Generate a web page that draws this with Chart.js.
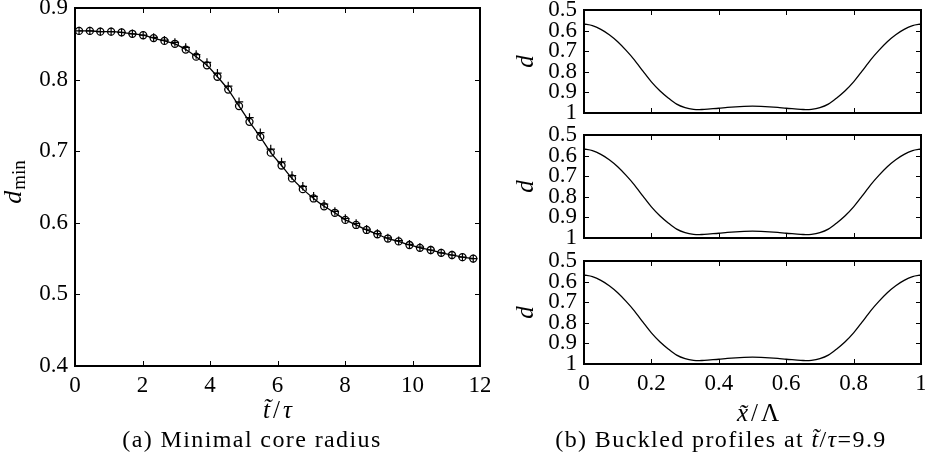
<!DOCTYPE html>
<html>
<head>
<meta charset="utf-8">
<script src="https://cdn.jsdelivr.net/npm/chart.js@4.4.0/dist/chart.umd.min.js"></script>
<style>
body { margin: 0; background: #fff; }
#wrap { position: relative; width: 925px; height: 462px; overflow: hidden; font-family: "Liberation Serif", serif; }
canvas { position: absolute; }
.cap { position: absolute; top: 426px; font-size: 24px; line-height: 26px; letter-spacing: 1.4px; white-space: nowrap; transform: translateX(-50%); color: #000; }
</style>
</head>
<body>
<div id="wrap">
  <canvas id="c1" width="490" height="430" style="left:0;top:0"></canvas>
  <canvas id="c2" width="425" height="128" style="left:500px;top:0"></canvas>
  <canvas id="c3" width="425" height="128" style="left:500px;top:120px"></canvas>
  <canvas id="c4" width="425" height="184" style="left:500px;top:246px"></canvas>
  <div class="cap" style="left:252px">(a) Minimal core radius</div>
  <div class="cap" style="left:721px">(b) Buckled profiles at <i>t&#771;</i>/<i>τ</i>=9.9</div>
</div>
<script>
// panel (a): minimal core radius vs time
const tVals = [0.12, 0.44, 0.75, 1.07, 1.38, 1.70, 2.02, 2.33, 2.65, 2.96, 3.28, 3.59, 3.91,
    4.22, 4.54, 4.86, 5.17, 5.49, 5.80, 6.12, 6.43, 6.75, 7.07, 7.38, 7.70, 8.01, 8.33,
    8.64, 8.96, 9.27, 9.59, 9.91, 10.22, 10.54, 10.85, 11.17, 11.48, 11.80];
const dminCircle = [0.868, 0.868, 0.867, 0.867, 0.866, 0.864, 0.862, 0.858, 0.854, 0.850, 0.842,
    0.832, 0.820, 0.804, 0.786, 0.763, 0.741, 0.720, 0.698, 0.680, 0.662, 0.647, 0.634, 0.623,
    0.614, 0.604, 0.597, 0.590, 0.584, 0.578, 0.574, 0.569, 0.565, 0.562, 0.558, 0.555, 0.552, 0.550];
const dminPlus = [0.868, 0.868, 0.867, 0.867, 0.866, 0.864, 0.862, 0.859, 0.855, 0.852, 0.845,
    0.835, 0.824, 0.809, 0.791, 0.769, 0.747, 0.726, 0.703, 0.685, 0.666, 0.651, 0.637, 0.626,
    0.616, 0.606, 0.599, 0.591, 0.585, 0.579, 0.575, 0.570, 0.566, 0.562, 0.558, 0.555, 0.552, 0.550];

// panel (b): buckled profiles
const xVals = [0, 0.025, 0.05, 0.075, 0.1, 0.125, 0.15, 0.175, 0.2, 0.225, 0.25, 0.275, 0.3,
    0.325, 0.35, 0.375, 0.4, 0.425, 0.45, 0.475, 0.5, 0.525, 0.55, 0.575, 0.6, 0.625, 0.65,
    0.675, 0.7, 0.725, 0.75, 0.775, 0.8, 0.825, 0.85, 0.875, 0.9, 0.925, 0.95, 0.975, 1];
const profileD = [0.568, 0.576, 0.594, 0.620, 0.654, 0.696, 0.743, 0.797, 0.849, 0.892, 0.927,
    0.957, 0.974, 0.982, 0.983, 0.980, 0.977, 0.973, 0.970, 0.968, 0.967, 0.968, 0.970, 0.973,
    0.977, 0.980, 0.983, 0.982, 0.974, 0.957, 0.927, 0.892, 0.849, 0.797, 0.743, 0.696, 0.654,
    0.620, 0.594, 0.576, 0.568];

const tTicks = [0, 2, 4, 6, 8, 10, 12];
const dminTicks = [0.4, 0.5, 0.6, 0.7, 0.8, 0.9];
const xTicks = [0, 0.2, 0.4, 0.6, 0.8, 1];
const dTicks = [0.5, 0.6, 0.7, 0.8, 0.9, 1];

const FONT = '"Liberation Serif", serif';
Chart.defaults.font.family = FONT;
Chart.defaults.font.size = 23;
Chart.defaults.color = '#000';

const fmt = v => String(+Number(v).toFixed(1));
const ital = s => 'italic ' + s + 'px ' + FONT;
const roman = s => s + 'px ' + FONT;

// axis titles per canvas, kept out of the chart options
const dTitle = { rotate: true, x: 33, shift: 0, gap: 0, parts: [{ text: 'd', font: ital(25), dy: 0 }] };
const titleItems = {
    c1: [{
        rotate: true, x: 21, shift: -5, gap: 1,
        parts: [{ text: 'd', font: ital(26), dy: 0 }, { text: 'min', font: roman(19), dy: 4 }]
    }, {
        rotate: false, y: 418, gap: 3,
        parts: [{ text: 't\u0303', font: ital(25), dy: 0 }, { text: '/', font: roman(25), dy: 0 },
            { text: '\u03c4', font: ital(25), dy: 0 }]
    }],
    c2: [dTitle],
    c3: [dTitle],
    c4: [dTitle, {
        rotate: false, x: 258, y: 175, gap: 3,
        parts: [{ text: 'x\u0303', font: ital(25), dy: 0 }, { text: '/', font: roman(25), dy: 0 },
            { text: '\u039b', font: roman(25), dy: 0 }]
    }]
};

// box with inward ticks on all four sides
const innerTicks = {
    id: 'innerTicks',
    afterDraw(chart) {
        const ctx = chart.ctx, a = chart.chartArea, sx = chart.scales.x, sy = chart.scales.y;
        ctx.save();
        ctx.strokeStyle = '#000';
        ctx.lineWidth = 1;
        ctx.beginPath();
        sx.ticks.forEach(t => {
            const px = Math.round(sx.getPixelForValue(t.value)) + 0.5;
            ctx.moveTo(px, a.bottom); ctx.lineTo(px, a.bottom - 5);
            ctx.moveTo(px, a.top); ctx.lineTo(px, a.top + 5);
        });
        sy.ticks.forEach(t => {
            const py = Math.round(sy.getPixelForValue(t.value)) + 0.5;
            ctx.moveTo(a.left, py); ctx.lineTo(a.left + 5, py);
            ctx.moveTo(a.right, py); ctx.lineTo(a.right - 5, py);
        });
        ctx.stroke();
        ctx.lineWidth = 2;
        ctx.strokeRect(a.left, a.top, a.right - a.left, a.bottom - a.top);
        ctx.restore();
    }
};

const mathTitle = {
    id: 'mathTitle',
    afterDraw(chart) {
        const ctx = chart.ctx, a = chart.chartArea;
        (titleItems[chart.canvas.id] || []).forEach(it => {
            ctx.save();
            if (it.rotate) {
                ctx.translate(it.x, (a.top + a.bottom) / 2 + it.shift);
                ctx.rotate(-Math.PI / 2);
            } else {
                ctx.translate(it.x != null ? it.x : (a.left + a.right) / 2, it.y);
            }
            ctx.fillStyle = '#000';
            ctx.textBaseline = 'alphabetic';
            let w = it.gap * (it.parts.length - 1);
            it.parts.forEach(p => { ctx.font = p.font; w += ctx.measureText(p.text).width; });
            let x = -w / 2;
            it.parts.forEach(p => {
                ctx.font = p.font;
                ctx.fillText(p.text, x, p.dy);
                x += ctx.measureText(p.text).width + it.gap;
            });
            ctx.restore();
        });
    }
};
Chart.register(innerTicks, mathTitle);

function xScale(ticksArr, height, showLabels) {
    return {
        type: 'linear',
        min: ticksArr[0],
        max: ticksArr[ticksArr.length - 1],
        afterBuildTicks: s => { s.ticks = ticksArr.map(v => ({ value: v })); },
        afterFit: s => { s.height = height; s.paddingLeft = 0; s.paddingRight = 0; },
        grid: { display: false, drawTicks: false },
        border: { display: false },
        ticks: { display: showLabels, padding: 6, maxRotation: 0, autoSkip: false, callback: fmt }
    };
}

function yScale(ticksArr, width, reverse) {
    return {
        type: 'linear',
        reverse: reverse,
        min: Math.min(...ticksArr),
        max: Math.max(...ticksArr),
        afterBuildTicks: s => { s.ticks = ticksArr.map(v => ({ value: v })); },
        afterFit: s => { s.width = width; s.paddingTop = 0; s.paddingBottom = 0; },
        grid: { display: false, drawTicks: false },
        border: { display: false },
        ticks: { padding: 7, autoSkip: false, callback: fmt }
    };
}

new Chart(document.getElementById('c1'), {
    type: 'line',
    data: {
        datasets: [{
            data: tVals.map((t, i) => ({ x: t, y: dminCircle[i] })),
            borderColor: '#000',
            borderWidth: 1.3,
            tension: 0.2,
            pointStyle: 'circle',
            pointRadius: 3.5,
            pointBorderWidth: 1.3,
            pointBorderColor: '#000',
            pointBackgroundColor: 'rgba(0,0,0,0)'
        }, {
            data: tVals.map((t, i) => ({ x: t, y: dminPlus[i] })),
            showLine: false,
            pointStyle: 'cross',
            pointRadius: 4.2,
            pointBorderWidth: 1.2,
            pointBorderColor: '#000'
        }]
    },
    options: {
        responsive: false,
        animation: false,
        layout: { padding: { top: 8, right: 10, left: 0, bottom: 0 } },
        scales: {
            x: xScale(tTicks, 64, true),
            y: yScale(dminTicks, 75, false)
        },
        plugins: { legend: { display: false }, tooltip: { enabled: false } }
    }
});

function profileChart(id, padTop, xHeight, showLabels) {
    new Chart(document.getElementById(id), {
        type: 'line',
        data: {
            datasets: [{
                data: xVals.map((x, i) => ({ x: x, y: profileD[i] })),
                borderColor: '#000',
                borderWidth: 1.3,
                tension: 0.3,
                pointRadius: 0
            }]
        },
        options: {
            responsive: false,
            animation: false,
            layout: { padding: { top: padTop, right: 4, left: 0, bottom: 0 } },
            scales: {
                x: xScale(xTicks, xHeight, showLabels),
                y: yScale(dTicks, 84, true)
            },
            plugins: { legend: { display: false }, tooltip: { enabled: false } }
        }
    });
}

profileChart('c2', 10, 15, false);
profileChart('c3', 15, 10, false);
profileChart('c4', 15, 66, true);
</script>
</body>
</html>
